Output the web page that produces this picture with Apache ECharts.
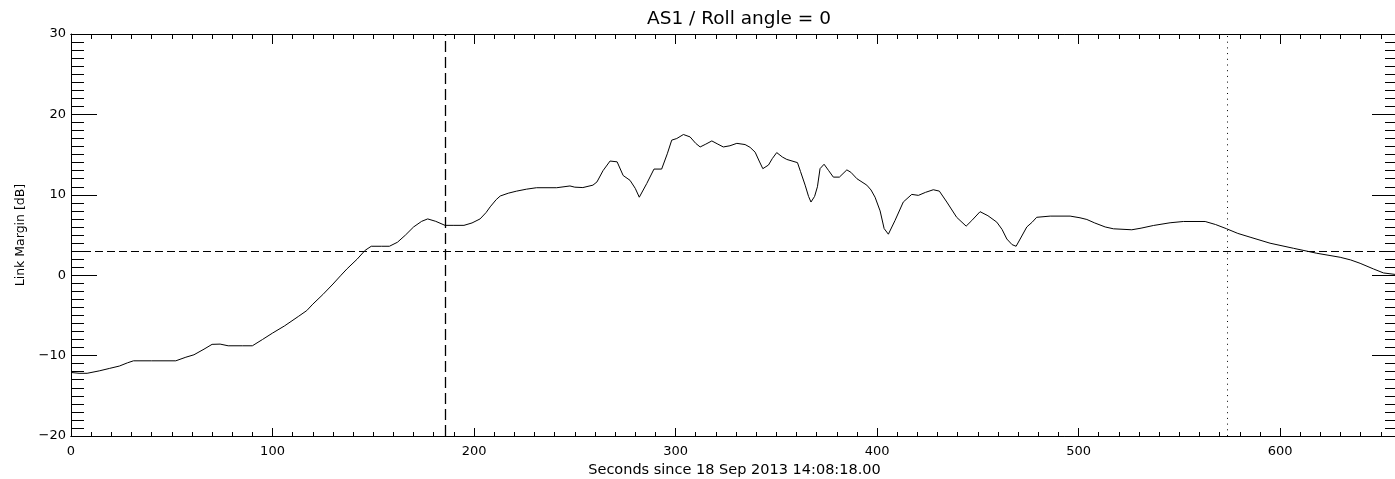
<!DOCTYPE html>
<html>
<head>
<meta charset="utf-8">
<script src="https://cdn.jsdelivr.net/npm/echarts@6/dist/echarts.min.js"></script>
<style>
html,body{margin:0;padding:0;background:#fff;}
#chart{width:1395px;height:479px;}
</style>
</head>
<body>
<div id="chart"></div>
<script>
// ---- data ----
const titleText = 'AS1 / Roll angle = 0';
const xAxisName = 'Seconds since 18 Sep 2013 14:08:18.00';
const yAxisName = 'Link Margin [dB]';
const xMin = 0, xMax = 658.5;
const yMin = -20, yMax = 30;
const thresholdDb = 3;
const dashedMarkerSec = 185.6;
const dottedMarkerSec = 574;

const seconds = [0,4,8,14,19,24,28,31,40,52,57,61,66,70,74,78,85,90,95,100,106,113,117,120,125,130,134,137,142,146,149,154,158,162,166,170,174,177,181,185.6,190,195,199,203,206,208,211,213,217,221,226,231,241,247.6,250,254,259,261,264,267.5,271,274,277.4,280,282,285.7,289.3,293.1,295.9,298.1,300.6,303.9,307.2,310,312.2,315,318,321,323.7,327,330.4,334.5,337,339.5,341.5,343.3,346.1,348,350.2,353,355.2,360.5,362,364.3,366,367.2,369,370.4,371.7,373.7,376,378.3,381.3,385,387,390,394.9,397,399,401.5,403.5,405.6,408.9,413,417.2,420.5,424,427.9,430.9,434.6,439.5,444.2,447,451.1,455,459.4,462,464.4,467,469,471,474.3,477,479.2,485.9,495.8,500.7,504.1,508,513.2,517.3,526.4,531,537.1,545.4,552,562.8,568,573.5,579,585.1,595,606.6,618.2,629.8,635,639.7,646.3,651.3,657];
const linkMargin = [-12.1,-12.2,-12.2,-11.9,-11.6,-11.3,-10.9,-10.65,-10.65,-10.65,-10.2,-9.9,-9.2,-8.6,-8.57,-8.78,-8.78,-8.78,-8.0,-7.2,-6.3,-5.1,-4.4,-3.6,-2.4,-1.1,0.0,0.8,2.0,3.1,3.6,3.6,3.6,4.1,5.0,6.0,6.7,7.0,6.7,6.2,6.2,6.2,6.5,7.0,7.8,8.5,9.4,9.85,10.2,10.45,10.7,10.88,10.88,11.1,10.95,10.9,11.2,11.6,13.0,14.2,14.1,12.4,11.8,10.8,9.7,11.4,13.2,13.2,15.1,16.8,17.0,17.5,17.2,16.4,15.95,16.3,16.7,16.3,15.95,16.1,16.4,16.25,15.9,15.3,14.2,13.25,13.7,14.5,15.25,14.7,14.4,14.0,12.9,11.2,9.8,9.1,9.8,11.0,13.25,13.8,13.0,12.2,12.2,13.1,12.8,12.0,11.2,10.6,9.7,8.0,5.8,5.1,6.8,9.1,10.05,9.93,10.3,10.63,10.46,9.1,7.2,6.1,6.8,7.9,7.4,6.6,5.7,4.5,3.8,3.6,4.5,6.0,6.6,7.2,7.35,7.35,7.14,6.93,6.5,6.0,5.77,5.65,5.85,6.18,6.52,6.68,6.68,6.3,5.77,5.2,4.73,3.98,3.35,2.73,2.23,1.9,1.48,0.78,0.28,0.1];

// ---- chart ----
const FONT = 'DejaVu Sans';
const BLACK = '#000';
const chart = echarts.init(document.getElementById('chart'), null, {renderer: 'canvas'});
const seriesData = seconds.map((s, i) => [s, linkMargin[i]]);

function xAx(position, interval, tickLen, showLabel, extra) {
  return Object.assign({
    type: 'value', gridIndex: 0, position: position, min: xMin, max: xMax, interval: interval,
    axisLine: {show: true, onZero: false, lineStyle: {color: BLACK, width: 1}},
    axisTick: {show: true, inside: true, length: tickLen, lineStyle: {color: BLACK, width: 1}},
    splitLine: {show: false},
    axisLabel: {show: showLabel}
  }, extra || {});
}

const option = {
  animation: false,
  backgroundColor: '#fff',
  title: {
    text: titleText, left: 734, top: 5, textAlign: 'center',
    textStyle: {fontFamily: FONT, fontSize: 18.5, fontWeight: 'normal', color: BLACK}
  },
  grid: {left: 71, top: 34, width: 1327, height: 402, containLabel: false, outerBoundsMode: 'none'},
  xAxis: [
    xAx('bottom', 10, 4, true, {
      axisLabel: {
        show: true, margin: 9, fontFamily: FONT, fontSize: 13, color: BLACK,
        formatter: v => (Math.abs(v % 100) < 1e-6 ? String(Math.round(v)) : '')
      },
      name: xAxisName, nameLocation: 'middle', nameGap: 26,
      nameTextStyle: {fontFamily: FONT, fontSize: 14.5, color: BLACK}
    }),
    xAx('bottom', 100, 8, false),
    xAx('top', 10, 5, false),
    xAx('top', 100, 10, false)
  ],
  yAxis: [
    {
      type: 'value', position: 'left', min: yMin, max: yMax, interval: 10,
      axisLine: {show: true, onZero: false, lineStyle: {color: BLACK, width: 1}},
      axisTick: {show: true, inside: true, length: 26, lineStyle: {color: BLACK, width: 1}},
      minorTick: {show: true, splitNumber: 10, length: 13, lineStyle: {color: BLACK, width: 1}},
      splitLine: {show: false},
      axisLabel: {
        margin: 5, fontFamily: FONT, fontSize: 13, color: BLACK,
        formatter: v => String(v).replace('-', '\u2212')
      },
      name: yAxisName, nameLocation: 'middle', nameGap: 44,
      nameTextStyle: {fontFamily: FONT, fontSize: 12.5, color: BLACK}
    },
    {
      type: 'value', position: 'right', min: yMin, max: yMax, interval: 10,
      axisLine: {show: true, onZero: false, lineStyle: {color: BLACK, width: 1}},
      axisTick: {show: true, inside: true, length: 26, lineStyle: {color: BLACK, width: 1}},
      minorTick: {show: true, splitNumber: 10, length: 13, lineStyle: {color: BLACK, width: 1}},
      splitLine: {show: false},
      axisLabel: {show: false}
    }
  ],
  series: [{
    type: 'line', xAxisIndex: 0, yAxisIndex: 0,
    data: seriesData, showSymbol: false, symbol: 'none',
    lineStyle: {color: BLACK, width: 1},
    markLine: {
      silent: true, symbol: ['none', 'none'], label: {show: false},
      data: [
        {yAxis: thresholdDb, lineStyle: {color: BLACK, width: 1, type: [8, 4]}},
        {xAxis: dashedMarkerSec, lineStyle: {color: BLACK, width: 1.3, type: [11, 5]}},
        {xAxis: dottedMarkerSec, lineStyle: {color: BLACK, width: 1, type: [1, 4.7]}}
      ]
    }
  }]
};
chart.setOption(option);
</script>
</body>
</html>
